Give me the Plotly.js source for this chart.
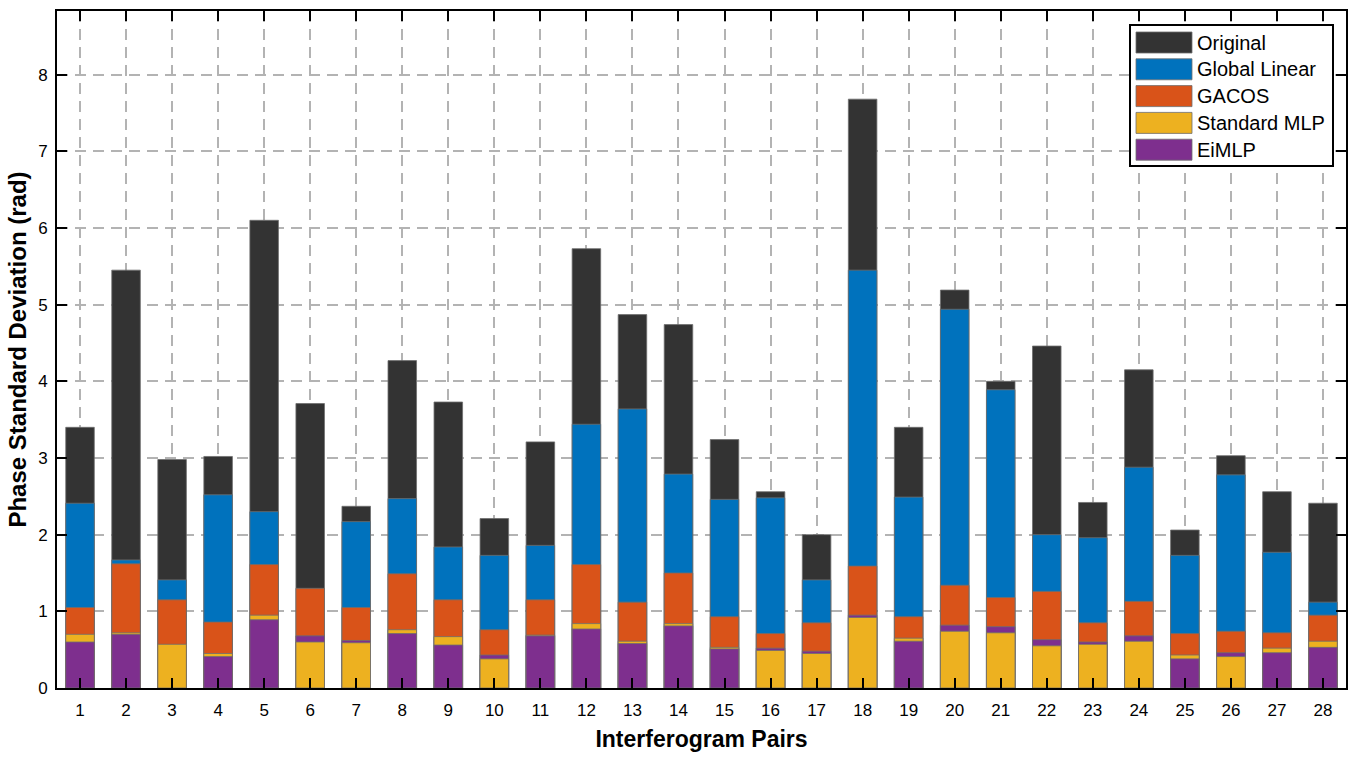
<!DOCTYPE html>
<html>
<head>
<meta charset="utf-8">
<script src="https://cdn.plot.ly/plotly-3.0.1.min.js"></script>
<style>
  html, body { margin: 0; padding: 0; background: #fff; }
  #chart { width: 1356px; height: 761px; }
</style>
</head>
<body>
<div id="chart"></div>
<script>
var pairs = [1, 2, 3, 4, 5, 6, 7, 8, 9, 10, 11, 12, 13, 14, 15, 16, 17, 18, 19, 20, 21, 22, 23, 24, 25, 26, 27, 28];

var original = [3.40, 5.45, 2.98, 3.02, 6.10, 3.71, 2.37, 4.27, 3.73, 2.21, 3.21, 5.73, 4.87, 4.74,
  3.24, 2.56, 2.00, 7.68, 3.40, 5.19, 4.00, 4.46, 2.42, 4.15, 2.06, 3.03, 2.56, 2.41];
var globalLinear = [2.41, 1.67, 1.41, 2.52, 2.30, null, 2.17, 2.47, 1.84, 1.73, 1.86, 3.44, 3.64, 2.79,
  2.46, 2.48, 1.41, 5.45, 2.49, 4.94, 3.89, 2.00, 1.96, 2.88, 1.73, 2.78, 1.77, 1.12];
var gacos = [1.05, 1.62, 1.15, 0.86, 1.61, 1.30, 1.05, 1.49, 1.15, 0.76, 1.15, 1.61, 1.12, 1.50,
  0.93, 0.71, 0.85, 1.59, 0.93, 1.34, 1.18, 1.26, 0.85, 1.13, 0.71, 0.74, 0.72, 0.95];
var standardMLP = [0.70, 0.72, 0.57, 0.45, 0.95, 0.60, 0.59, 0.76, 0.67, 0.38, 0.69, 0.84, 0.61, 0.84,
  0.53, 0.49, 0.45, 0.92, 0.65, 0.74, 0.72, 0.55, 0.57, 0.61, 0.43, 0.41, 0.52, 0.61];
var eimlp = [0.60, 0.70, null, 0.41, 0.89, 0.68, 0.62, 0.71, 0.56, 0.43, 0.68, 0.77, 0.58, 0.81,
  0.51, 0.52, 0.48, 0.95, 0.61, 0.82, 0.80, 0.63, 0.60, 0.68, 0.38, 0.46, 0.46, 0.53];

var names = ['Original', 'Global Linear', 'GACOS', 'Standard MLP', 'EiMLP'];
var colors = ['#333333', '#0072BD', '#D95319', '#EDB120', '#7E2F8E'];
var series = [original, globalLinear, gacos, standardMLP, eimlp];

// bars overlap from zero; per pair the tallest goes at the back, smallest in front
var layers = [];
for (var k = 0; k < series.length; k++) {
  layers.push({y: [], c: []});
}
pairs.forEach(function(p, i) {
  var items = [];
  series.forEach(function(s, j) {
    if (s[i] !== null) items.push({v: s[i], c: colors[j]});
  });
  items.sort(function(a, b) { return b.v - a.v; });
  for (var k = 0; k < layers.length; k++) {
    layers[k].y.push(items[k] ? items[k].v : null);
    layers[k].c.push(items[k] ? items[k].c : '#000');
  }
});

var data = layers.map(function(l) {
  return {
    type: 'bar',
    x: pairs,
    y: l.y,
    marker: {color: l.c, line: {color: 'rgba(110,110,110,0.8)', width: 1}},
    showlegend: false,
    hoverinfo: 'x+y'
  };
});

// legend drawn as a MATLAB style box with wide swatches
var px = function(x) { return (x - 57) / 1289; };
var py = function(y) { return (688 - y) / 677; };
var shapes = [{
  type: 'rect', xref: 'paper', yref: 'paper',
  x0: px(1130), x1: px(1333), y0: py(166), y1: py(25),
  fillcolor: 'white', line: {color: 'black', width: 2}
}];
var annotations = [];
names.forEach(function(n, i) {
  var top = 32 + 26.8 * i;
  shapes.push({
    type: 'rect', xref: 'paper', yref: 'paper',
    x0: px(1136), x1: px(1192), y0: py(top + 21), y1: py(top),
    fillcolor: colors[i], line: {color: 'rgba(110,110,110,0.8)', width: 1}
  });
  annotations.push({
    xref: 'paper', yref: 'paper', x: px(1195), y: py(top + 10.5),
    xanchor: 'left', yanchor: 'middle', showarrow: false,
    text: n, font: {size: 20, color: '#000'}
  });
});

var layout = {
  width: 1356,
  height: 761,
  margin: {l: 57, r: 10, t: 11, b: 73},
  paper_bgcolor: 'white',
  plot_bgcolor: 'white',
  barmode: 'overlay',
  bargap: 0.38,
  font: {family: 'Liberation Sans, Arial, sans-serif', size: 17, color: '#000'},
  xaxis: {
    range: [0.5, 28.5],
    tickvals: pairs,
    ticks: 'inside', ticklen: 10, tickwidth: 2, tickcolor: '#000',
    showline: true, linewidth: 2, linecolor: '#000', mirror: 'ticks',
    showgrid: true, gridcolor: '#b3b3b3', gridwidth: 1.5, griddash: '11px,7px',
    zeroline: false,
    ticklabelstandoff: 6,
    tickfont: {size: 17},
    title: {text: '<b>Interferogram Pairs</b>', font: {size: 23}, standoff: 11}
  },
  yaxis: {
    range: [0, 8.83],
    tick0: 0, dtick: 1,
    ticks: 'inside', ticklen: 10, tickwidth: 2, tickcolor: '#000',
    showline: true, linewidth: 2, linecolor: '#000', mirror: 'ticks',
    showgrid: true, gridcolor: '#b3b3b3', gridwidth: 1.5, griddash: '11px,7px',
    zeroline: false,
    ticklabelstandoff: 4,
    tickfont: {size: 17},
    title: {text: '<b>Phase Standard Deviation (rad)</b>', font: {size: 24}, standoff: 5}
  },
  shapes: shapes,
  annotations: annotations
};

Plotly.newPlot('chart', data, layout, {displayModeBar: false});
</script>
</body>
</html>
